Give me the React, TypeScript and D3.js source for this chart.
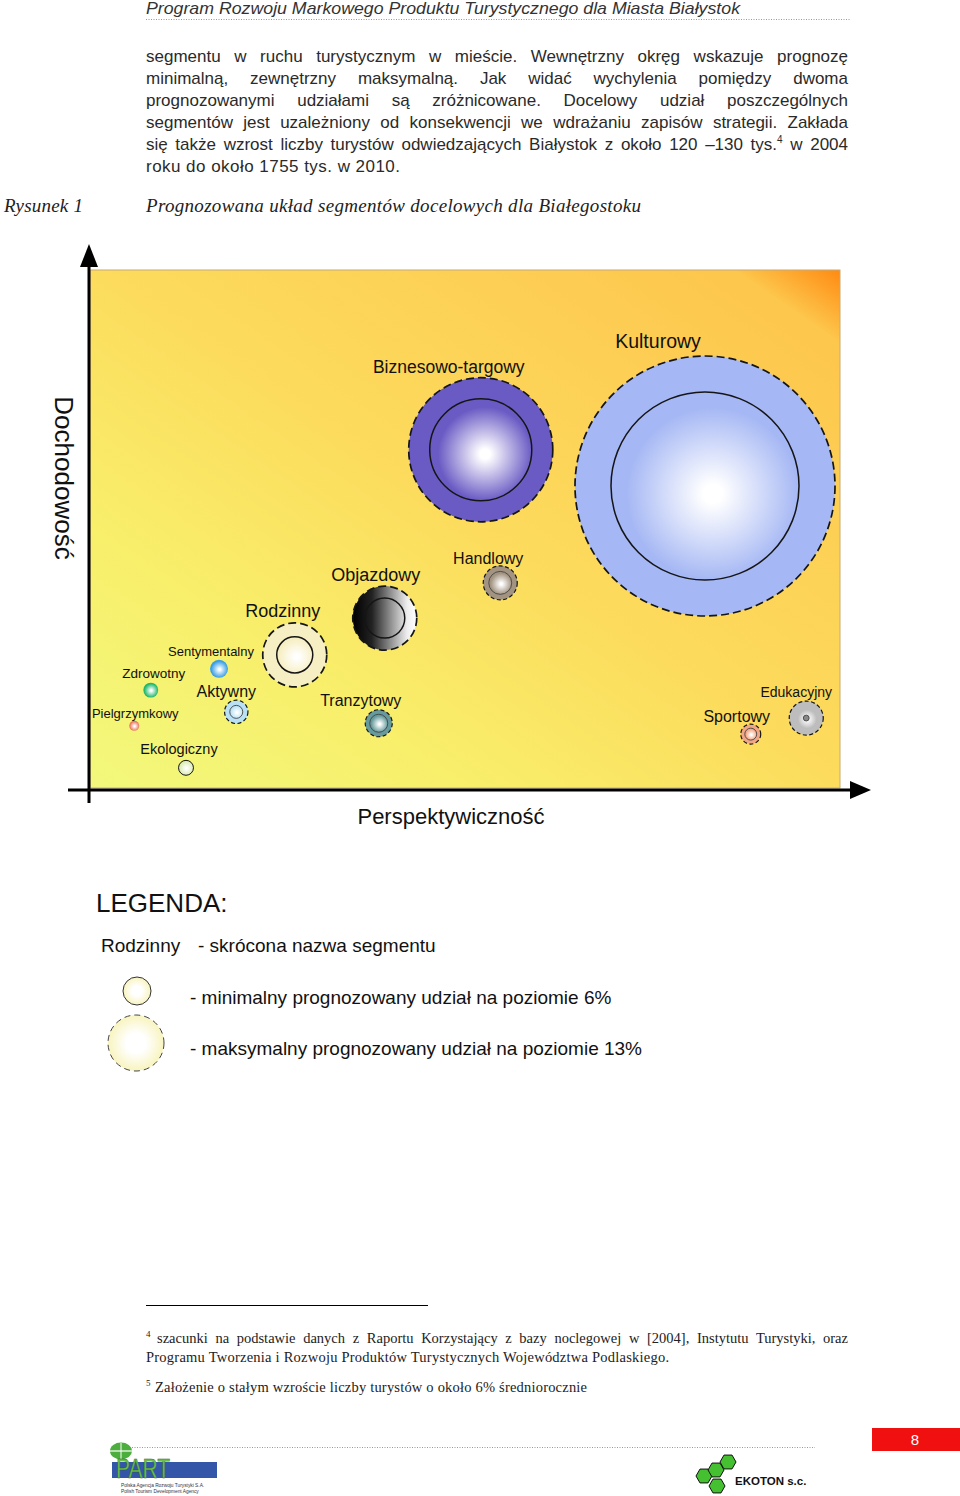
import React, { useRef, useLayoutEffect } from 'react';
import * as d3 from 'd3';

const width = 960;
const height = 1496;

// segmenty i ich pozycje (perspektywicznosc / dochodowosc w skali 0-100)
const segments = ['Kulturowy', 'Biznesowo-targowy', 'Handlowy', 'Objazdowy', 'Rodzinny', 'Sentymentalny', 'Zdrowotny', 'Aktywny', 'Pielgrzymkowy', 'Ekologiczny', 'Tranzytowy', 'Edukacyjny', 'Sportowy'];
const perspektywicznosc = [82.0, 52.1, 54.7, 39.3, 27.3, 17.2, 8.1, 19.5, 5.9, 12.8, 38.5, 95.5, 88.1];
const dochodowosc = [58.3, 65.3, 39.6, 32.8, 25.7, 23.0, 18.9, 14.7, 12.0, 3.9, 12.5, 13.5, 10.4];
// wielkosc kola (udzial prognozowany, jednostki wzgledne)
const udzialMin = [52.3, 15.4, 0.78, 2.37, 1.92, 0.48, 0.33, 0.25, 0.15, 0.33, 0.48, 0.05, 0.21];
const udzialMax = [100, 30.7, 1.71, 6.06, 6.06, 0.48, 0.33, 0.81, 0.15, 0.33, 1.08, 1.71, 0.59];

const legendItems = ['- minimalny prognozowany udział na poziomie 6%', '- maksymalny prognozowany udział na poziomie 13%'];

// wyglad
const fillColor = ['#a5b7f4', '#6a5bc4', '#a39482', '#000000', '#f7efc4', '#3a9fe6', '#20b86c', '#b9e1f5', '#ec7a60', '#dcecb2', '#669a9c', '#bdbdbd', '#f3a684'];
const outerStroke = ['dash', 'dash', 'dash', 'dash', 'dash', 'none', 'none', 'dash', 'none', 'solid', 'dash', 'dash', 'dash'];
const labelDx = [-47, -32, -12, -9, -12, -8, 3, -10, 1, -7, -18, -10, -14];
const labelDy = [-8, -5, -2, -5, -6, -4, -4.5, -3, -3, -6, -3.5, -4, -2];
const labelSize = [19.5, 17.5, 16, 18, 18, 13, 13.5, 16, 13, 14.5, 16, 14, 16];

const bodyLines = [
  'segmentu w ruchu turystycznym w mieście. Wewnętrzny okręg wskazuje prognozę',
  'minimalną, zewnętrzny maksymalną. Jak widać wychylenia pomiędzy dwoma',
  'prognozowanymi udziałami są zróżnicowane. Docelowy udział poszczególnych',
  'segmentów jest uzależniony od konsekwencji we wdrażaniu zapisów strategii. Zakłada',
];
const footnote4 = 'szacunki na podstawie danych z Raportu Korzystający z bazy noclegowej w [2004], Instytutu Turystyki, oraz';

const sans = '"Liberation Sans", Arial, sans-serif';
const serif = '"Liberation Serif", "Times New Roman", serif';

const x = d3.scaleLinear().domain([0, 100]).range([90, 840]);
const y = d3.scaleLinear().domain([0, 100]).range([788, 270]);
const r = d3.scaleSqrt().domain([0, 100]).range([0, 130]);

const countSpaces = (s: string) => s.split(' ').length - 1;

const Justified = ({ xPos, yPos, w, spaces, children, ...rest }: any) => {
  const ref = useRef<SVGTextElement>(null);
  useLayoutEffect(() => {
    const fit = () => {
      const el = ref.current;
      if (!el) return;
      el.style.wordSpacing = '0px';
      const len = el.getComputedTextLength();
      el.style.wordSpacing = `${(w - len) / spaces}px`;
    };
    fit();
    (document as any).fonts?.ready.then(fit);
  }, [w, spaces]);
  return <text ref={ref} x={xPos} y={yPos} {...rest}>{children}</text>;
};

const hex = (cx: number, cy: number, s: number) =>
  d3.range(6).map(k => [cx + s * Math.cos(k * Math.PI / 3), cy + s * Math.sin(k * Math.PI / 3)].join(',')).join(' ');

const App = () => {
  const data = segments.map((name, i) => ({
    name,
    cx: x(perspektywicznosc[i]),
    cy: y(dochodowosc[i]),
    rMin: r(udzialMin[i]),
    rMax: r(udzialMax[i]),
    i,
  }));

  return (
    <svg width={width} height={height} style={{ position: 'absolute', left: 0, top: 0, background: '#fff' }}>
      <defs>
        <linearGradient id="bg" x1="0" y1="1" x2="1" y2="0">
          <stop offset="0" stopColor="#f2f87c" />
          <stop offset="0.25" stopColor="#f8ef6b" />
          <stop offset="0.5" stopColor="#fcdc5d" />
          <stop offset="0.8" stopColor="#fdcd53" />
          <stop offset="0.93" stopColor="#fdc64c" />
          <stop offset="1" stopColor="#ff8a12" />
        </linearGradient>
        {data.map(d => {
          if (d.name === 'Objazdowy') {
            return (
              <linearGradient key={d.i} id={`g${d.i}`} x1="0" y1="0" x2="1" y2="0">
                <stop offset="0" stopColor="#000" />
                <stop offset="0.3" stopColor="#222" />
                <stop offset="0.62" stopColor="#9a9a9a" />
                <stop offset="0.85" stopColor="#eeeeee" />
                <stop offset="1" stopColor="#ffffff" />
              </linearGradient>
            );
          }
          const f = Math.max(d.rMin / d.rMax, 0.6);
          return (
            <radialGradient key={d.i} id={`g${d.i}`} cx="0.53" cy="0.53" r="0.5">
              <stop offset="0" stopColor="#ffffff" />
              <stop offset={0.1 * f} stopColor="#ffffff" />
              <stop offset={0.92 * f} stopColor={fillColor[d.i]} />
              <stop offset="1" stopColor={fillColor[d.i]} />
            </radialGradient>
          );
        })}
        <radialGradient id="legendFill" cx="0.5" cy="0.5" r="0.5">
          <stop offset="0" stopColor="#ffffff" />
          <stop offset="0.35" stopColor="#ffffff" />
          <stop offset="1" stopColor="#f8f4bf" />
        </radialGradient>
      </defs>

      {/* naglowek */}
      <text x={146} y={14} fontFamily={sans} fontStyle="italic" fontSize={17} fill="#333" textLength={594} lengthAdjust="spacingAndGlyphs">
        Program Rozwoju Markowego Produktu Turystycznego dla Miasta Białystok
      </text>
      <line x1={146} x2={851} y1={19.5} y2={19.5} stroke="#999" strokeDasharray="1 1.5" />

      {bodyLines.map((t, i) => (
        <Justified key={i} xPos={146} yPos={62 + i * 22} w={702} spaces={countSpaces(t)}
          fontFamily={sans} fontSize={17} fill="#2a2a2a">{t}</Justified>
      ))}
      <Justified xPos={146} yPos={150} w={702} spaces={13} fontFamily={sans} fontSize={17} fill="#2a2a2a">
        się także wzrost liczby turystów odwiedzających Białystok z około 120 –130 tys.
        <tspan fontSize={10} dy={-7}>4</tspan>
        <tspan dy={7}> w 2004</tspan>
      </Justified>
      <text x={146} y={172} fontFamily={sans} fontSize={17} fill="#2a2a2a" textLength={254}>roku do około 1755 tys. w 2010.</text>

      <text x={4} y={212} fontFamily={serif} fontStyle="italic" fontSize={19} fill="#222" textLength={79}>Rysunek 1</text>
      <text x={146} y={212} fontFamily={serif} fontStyle="italic" fontSize={19} fill="#222" textLength={495}>
        Prognozowana układ segmentów docelowych dla Białegostoku
      </text>

      {/* wykres */}
      <rect x={x(0)} y={y(100)} width={x(100) - x(0)} height={y(0) - y(100)} fill="url(#bg)" stroke="#c9aa70" strokeWidth={1} />

      <line x1={x(0) - 1} x2={x(0) - 1} y1={262} y2={803} stroke="#000" strokeWidth={3} />
      <polygon points={`${x(0) - 1},244 ${x(0) - 10},267 ${x(0) + 8},267`} fill="#000" />
      <line x1={68} x2={855} y1={y(0) + 2} y2={y(0) + 2} stroke="#000" strokeWidth={3} />
      <polygon points={`871,${y(0) + 2} 850,${y(0) - 7} 850,${y(0) + 11}`} fill="#000" />

      <text transform="translate(55,478) rotate(90)" textAnchor="middle" fontFamily={sans} fontSize={26} fill="#111">Dochodowość</text>
      <text x={451} y={824} textAnchor="middle" fontFamily={sans} fontSize={22} fill="#111">Perspektywiczność</text>

      {data.map(d => {
        const big = d.rMax > 25;
        const st = outerStroke[d.i];
        return (
          <g key={d.name}>
            <circle cx={d.cx} cy={d.cy} r={d.rMax} fill={`url(#g${d.i})`}
              stroke={st === 'none' ? 'none' : '#151515'}
              strokeWidth={st === 'solid' ? 1 : big ? 1.7 : 1.2}
              strokeDasharray={st === 'dash' ? (big ? '8 4' : '4 2.5') : undefined} />
            {d.rMin < d.rMax && (
              <circle cx={d.cx} cy={d.cy} r={d.rMin} fill={d.name === 'Edukacyjny' ? '#888' : 'none'}
                stroke={big ? '#151515' : '#444'} strokeWidth={big ? 1.5 : 0.9} />
            )}
            <text x={d.cx + labelDx[d.i]} y={d.cy - d.rMax + labelDy[d.i]} textAnchor="middle"
              fontFamily={sans} fontSize={labelSize[d.i]} fill="#111">{d.name}</text>
          </g>
        );
      })}

      {/* legenda */}
      <text x={96} y={912} fontFamily={sans} fontSize={26} fill="#111">LEGENDA:</text>
      <text x={101} y={952} fontFamily={sans} fontSize={19} fill="#111">Rodzinny</text>
      <text x={198} y={952} fontFamily={sans} fontSize={19} fill="#111">- skrócona nazwa segmentu</text>
      <circle cx={137} cy={991} r={14} fill="url(#legendFill)" stroke="#333" strokeWidth={1} />
      <circle cx={136} cy={1043} r={28} fill="url(#legendFill)" stroke="#444" strokeWidth={1} strokeDasharray="6 4" />
      {legendItems.map((t, i) => (
        <text key={i} x={190} y={1004 + i * 51} fontFamily={sans} fontSize={19} fill="#111">{t}</text>
      ))}

      {/* przypisy */}
      <line x1={146} x2={428} y1={1305.5} y2={1305.5} stroke="#000" strokeWidth={1.2} />
      <text x={146} y={1337} fontFamily={serif} fontSize={9} fill="#222">4</text>
      <Justified xPos={157} yPos={1343} w={691} spaces={countSpaces(footnote4)} fontFamily={serif} fontSize={14.5} fill="#222">
        {footnote4}
      </Justified>
      <text x={146} y={1362} fontFamily={serif} fontSize={14.5} fill="#222" textLength={523}>
        Programu Tworzenia i Rozwoju Produktów Turystycznych Województwa Podlaskiego.
      </text>
      <text x={146} y={1386} fontFamily={serif} fontSize={9} fill="#222">5</text>
      <text x={155} y={1392} fontFamily={serif} fontSize={14.5} fill="#222" textLength={432}>
        Założenie o stałym wzroście liczby turystów o około 6% średniorocznie
      </text>

      {/* stopka */}
      <rect x={872} y={1428} width={88} height={23} fill="#f01010" />
      <text x={915} y={1445} textAnchor="middle" fontFamily={sans} fontSize={15} fill="#fff">8</text>
      <line x1={122} x2={815} y1={1447.5} y2={1447.5} stroke="#999" strokeDasharray="1 1.5" />

      <ellipse cx={121} cy={1451} rx={11} ry={8.5} fill="#4cae3c" />
      <line x1={110} x2={132} y1={1451} y2={1451} stroke="#fff" strokeWidth={1.2} />
      <line x1={121} x2={121} y1={1443} y2={1459} stroke="#fff" strokeWidth={1} />
      <rect x={112} y={1462} width={105} height={16} fill="#3456a8" />
      <text x={116} y={1478} fontFamily={sans} fontSize={28} fill="#6cc04a" stroke="#2a5a20" strokeWidth={0.4}
        textLength={54} lengthAdjust="spacingAndGlyphs">PART</text>
      <text x={121} y={1487} fontFamily={sans} fontSize={4.8} fill="#334">Polska Agencja Rozwoju Turystyki S.A.</text>
      <text x={121} y={1493} fontFamily={sans} fontSize={4.8} fill="#334">Polish Tourism Development Agency</text>

      {[[704, 1476], [716, 1470], [728, 1462], [717, 1486]].map(([hx, hy], i) => (
        <polygon key={i} points={hex(hx, hy, 8)} fill="#45c030" stroke="#111" strokeWidth={1} />
      ))}
      <text x={735} y={1485} fontFamily={sans} fontWeight="bold" fontSize={11.5} fill="#111">EKOTON s.c.</text>
    </svg>
  );
};

export default App;
